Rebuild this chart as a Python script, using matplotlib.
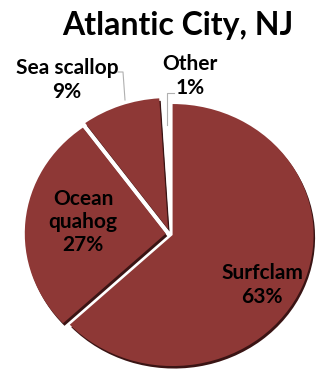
import matplotlib.pyplot as plt

# landings share by species
species = ['Surfclam', 'Ocean\nquahog', 'Sea scallop', 'Other']
share = [63, 27, 9, 1]
explode = [0.02, 0.03, 0.04, 0.03]

red = '#8e3836'
dark = '#3a1414'

plt.rcParams['font.family'] = ['Lato', 'DejaVu Sans']

W, H = 323, 371
fig = plt.figure(figsize=(W / 100, H / 100), dpi=100)

# pie axes: unit radius, slightly wider than tall
cx, cy = 170, 137      # pie centre, pixels from bottom-left
rx, ry = 141, 131      # pixels per unit radius
ax = fig.add_axes([0, 0, 1, 1])
ax.pie(share, explode=explode, startangle=90, counterclock=False,
       center=(1.5 / rx, -2.5 / ry), radius=1, frame=True,
       colors=[dark, dark, dark, 'white'], wedgeprops=dict(linewidth=0))
ax.pie(share, explode=explode, startangle=90, counterclock=False,
       radius=1, frame=True,
       colors=[red, red, red, 'white'], wedgeprops=dict(linewidth=0))
ax.set_xlim(-cx / rx, (W - cx) / rx)
ax.set_ylim(-cy / ry, (H - cy) / ry)
ax.set_aspect('auto')
ax.axis('off')

# overlay in pixel units for text and leader lines
tx = fig.add_axes([0, 0, 1, 1])
tx.set_xlim(0, W)
tx.set_ylim(0, H)
tx.axis('off')

tx.text(178, 346, 'Atlantic City, NJ', ha='center', va='center',
        fontsize=23, fontweight='bold')

kw = dict(ha='center', va='center', fontsize=15, fontweight='bold',
          color='black', linespacing=1.2)
tx.text(262, 86, f'{species[0]}\n{share[0]}%', **kw)
tx.text(83, 149, f'{species[1]}\n{share[1]}%', **kw)
tx.text(67, 291, f'{species[2]}\n{share[2]}%', **kw)
tx.text(190, 295, f'{species[3]}\n{share[3]}%', **kw)

tx.plot([118, 123, 125], [299, 299, 271], color='#b0b0b0', lw=0.8)
tx.plot([174, 167, 167], [278, 278, 246], color='#b0b0b0', lw=0.8)

fig.savefig('out.png', dpi=100)
